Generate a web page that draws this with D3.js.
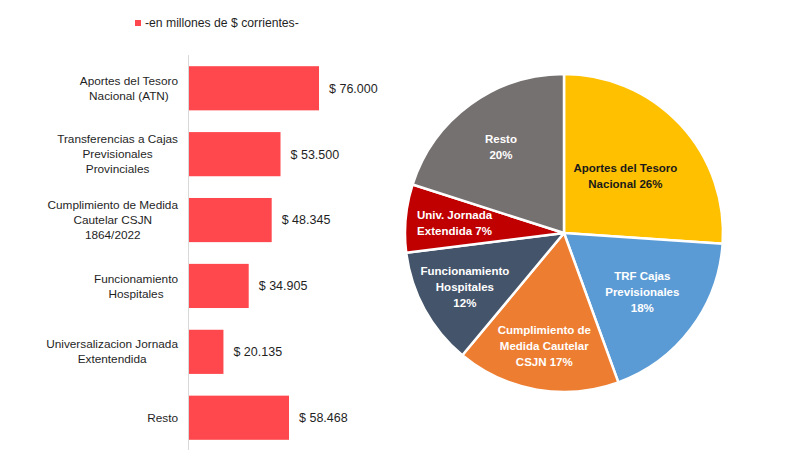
<!DOCTYPE html>
<html>
<head>
<meta charset="utf-8">
<script src="https://cdn.jsdelivr.net/npm/d3@7"></script>
<style>
  body { margin: 0; background: #fff; }
  svg { font-family: "Liberation Sans", Arial, sans-serif; }
</style>
</head>
<body>
<div id="chart"></div>
<script>
// Data
const categories = [
  ["Aportes del Tesoro", "Nacional (ATN)"],
  ["Transferencias a Cajas", "Previsionales", "Provinciales"],
  ["Cumplimiento de Medida", "Cautelar CSJN", "1864/2022"],
  ["Funcionamiento", "Hospitales"],
  ["Universalizacion Jornada", "Extentendida"],
  ["Resto"]
];
const values = [76000, 53500, 48345, 34905, 20135, 58468];
const valueLabels = ["$ 76.000", "$ 53.500", "$ 48.345", "$ 34.905", "$ 20.135", "$ 58.468"];
const pieLabels = [
  ["Aportes del Tesoro", "Nacional 26%"],
  ["TRF Cajas", "Previsionales", "18%"],
  ["Cumplimiento de", "Medida Cautelar", "CSJN 17%"],
  ["Funcionamiento", "Hospitales", "12%"],
  ["Univ. Jornada", "Extendida 7%"],
  ["Resto", "20%"]
];
const legendText = "-en millones de $ corrientes-";

const width = 800, height = 450;
const svg = d3.select("#chart").append("svg")
  .attr("width", width)
  .attr("height", height);

// ---- Bar chart ----
const bar = {left: 189, top: 55, bottom: 450};
const barColor = "#FF484D";

const xScale = d3.scaleLinear()
  .domain([0, 76000])
  .range([0, 130]);

const yScale = d3.scaleBand()
  .domain(d3.range(values.length))
  .range([bar.top, 451])
  .paddingInner(0.33)
  .paddingOuter(0.17);

const gBar = svg.append("g").attr("transform", `translate(${bar.left},0)`);

gBar.append("line")
  .attr("x1", -0.5).attr("x2", -0.5)
  .attr("y1", bar.top).attr("y2", bar.bottom)
  .attr("stroke", "#d9d9d9")
  .attr("stroke-width", 1);

gBar.selectAll("rect.bar")
  .data(values)
  .join("rect")
  .attr("class", "bar")
  .attr("x", 0)
  .attr("y", (d, i) => yScale(i))
  .attr("width", d => xScale(d))
  .attr("height", yScale.bandwidth())
  .attr("fill", barColor);

gBar.selectAll("text.val")
  .data(values)
  .join("text")
  .attr("class", "val")
  .attr("x", d => xScale(d) + 10)
  .attr("y", (d, i) => yScale(i) + yScale.bandwidth() / 2)
  .attr("dy", "0.35em")
  .attr("font-size", 12.5)
  .attr("fill", "#1f1f1f")
  .text((d, i) => valueLabels[i]);

// category labels: block right-aligned, lines centred within block
const lineH = 15;
const labelRight = -11;
gBar.selectAll("text.cat")
  .data(categories)
  .join("text")
  .attr("class", "cat")
  .attr("text-anchor", "middle")
  .attr("font-size", 11.8)
  .attr("fill", "#1f1f1f")
  .each(function(lines, i) {
    const cy = yScale(i) + yScale.bandwidth() / 2;
    const y0 = cy - (lines.length - 1) * lineH / 2;
    const spans = d3.select(this).selectAll("tspan")
      .data(lines)
      .join("tspan")
      .attr("y", (l, j) => y0 + j * lineH)
      .attr("dy", "0.35em")
      .text(l => l);
    const maxW = d3.max(spans.nodes(), n => n.getComputedTextLength());
    spans.attr("x", labelRight - maxW / 2);
  });

// legend
const legend = svg.append("g").attr("transform", "translate(135,20)");
legend.append("rect").attr("width", 6).attr("height", 6).attr("fill", barColor);
legend.append("text")
  .attr("x", 10).attr("y", 3).attr("dy", "0.35em")
  .attr("font-size", 12.2).attr("fill", "#1f1f1f")
  .text(legendText);

// ---- Pie chart ----
const pieColors = ["#FFC000", "#5B9BD5", "#ED7D31", "#44546A", "#C00000", "#767171"];
const labelColors = ["#1a1a1a", "#fff", "#fff", "#fff", "#fff", "#fff"];
const labelRadius = [84, 98, 115, 113, 110, 107];
const radius = 159;

const gPie = svg.append("g").attr("transform", "translate(564,233)");

const pie = d3.pie().sort(null).value(d => d);
const arcs = pie(values);
const arc = d3.arc().innerRadius(0).outerRadius(radius);

gPie.selectAll("path")
  .data(arcs)
  .join("path")
  .attr("d", arc)
  .attr("fill", (d, i) => pieColors[i])
  .attr("stroke", "#fff")
  .attr("stroke-width", 2.5)
  .attr("stroke-linejoin", "round");

const pLineH = 16;
gPie.selectAll("text")
  .data(arcs)
  .join("text")
  .attr("text-anchor", "middle")
  .attr("font-size", 11.5)
  .attr("font-weight", "bold")
  .attr("fill", (d, i) => labelColors[i])
  .each(function(d, i) {
    const r = labelRadius[i];
    const c = d3.arc().innerRadius(r).outerRadius(r).centroid(d);
    const lines = pieLabels[i];
    const y0 = c[1] - (lines.length - 1) * pLineH / 2;
    d3.select(this).selectAll("tspan")
      .data(lines)
      .join("tspan")
      .attr("x", c[0])
      .attr("y", (l, j) => y0 + j * pLineH)
      .attr("dy", "0.35em")
      .text(l => l);
  });
</script>
</body>
</html>
